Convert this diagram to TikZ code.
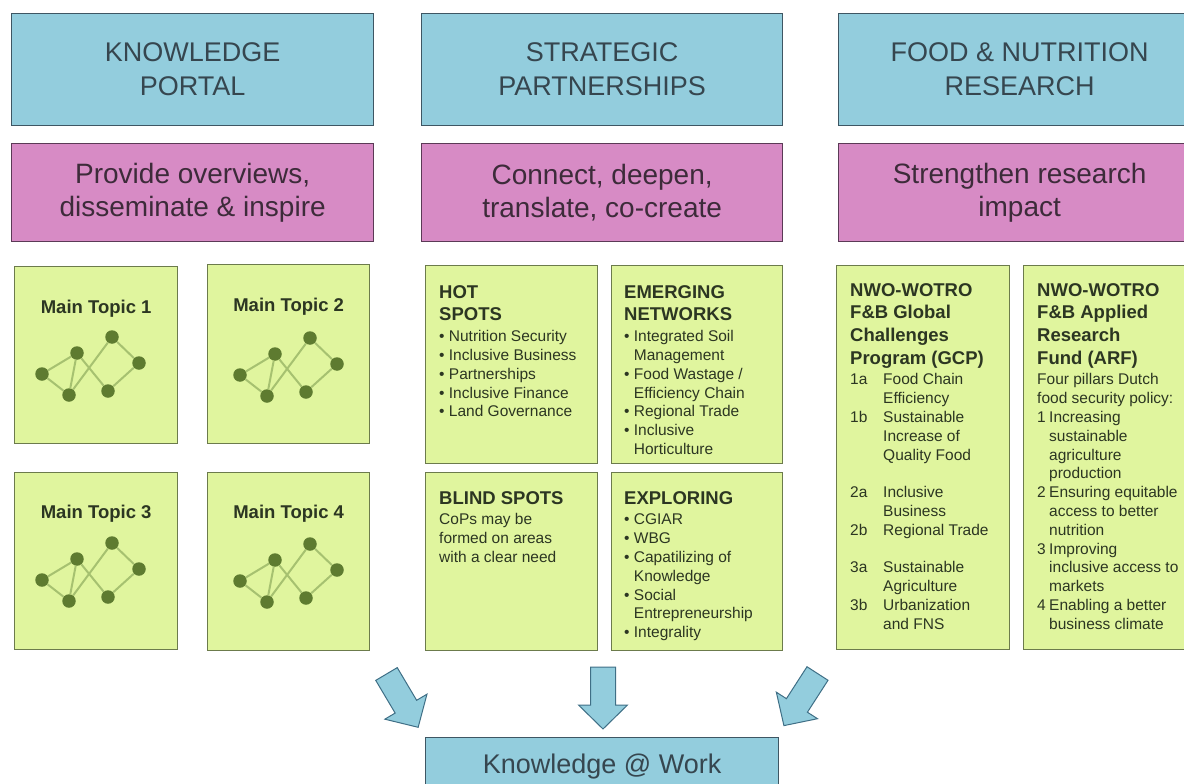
\documentclass[tikz,border=0pt]{standalone}
\usepackage{fontspec}
\setmainfont{Liberation Sans}
\usetikzlibrary{positioning}

\definecolor{headblue}{HTML}{93CDDD}
\definecolor{headline}{HTML}{3E5663}
\definecolor{headtext}{HTML}{36464F}
\definecolor{aimpink}{HTML}{D78BC5}
\definecolor{aimline}{HTML}{5B3A56}
\definecolor{aimtext}{HTML}{3D2B3A}
\definecolor{cardgreen}{HTML}{E0F59E}
\definecolor{cardline}{HTML}{6C7B4C}
\definecolor{inkgreen}{HTML}{2C3622}
\definecolor{dotgreen}{HTML}{5E7B30}
\definecolor{linkgreen}{HTML}{A6C170}
\definecolor{arrowline}{HTML}{3F6F86}

\tikzset{
  headbox/.style={draw=headline, fill=headblue, line width=1.3pt, inner sep=0pt,
    anchor=north west, align=center, text=headtext, font=\fontsize{27}{34}\selectfont},
  aimbox/.style={draw=aimline, fill=aimpink, line width=1.3pt, inner sep=0pt,
    anchor=north west, align=center, text=aimtext, font=\fontsize{28}{33}\selectfont},
  card/.style={draw=cardline, fill=cardgreen, line width=1.3pt, inner sep=0pt, anchor=north west},
  cardtext/.style={inner sep=0pt, align=left, text=inkgreen, font=\fontsize{15.5}{18.8}\selectfont},
  topiclabel/.style={inner sep=0pt, text=inkgreen, font=\bfseries\fontsize{18.5}{22}\selectfont},
  netdot/.style={circle, fill=dotgreen, inner sep=0pt, minimum size=13.5pt},
  netlink/.style={linkgreen, line width=2pt},
  fatarrow/.style={fill=headblue, draw=arrowline, line width=1pt, line join=miter}
}

\newcommand{\cardhead}[1]{{\bfseries\fontsize{18.5}{23}\selectfont #1}}
\newcommand{\cardbullet}{\textbullet\ }
\newcommand{\cardcont}{\phantom{\textbullet\ }}
\newcommand{\gcpnum}[1]{\makebox[33pt][l]{#1}}
\newcommand{\arfnum}[1]{\makebox[12pt][l]{#1}}

% small network of dots, #1 = name prefix, #2 = left dot
\newcommand{\topicnet}[2]{%
  \begin{scope}[shift={#2}]
    \node[netdot] (#1a) at (0,0) {};
    \node[netdot] (#1b) at (35,-21) {};
    \node[netdot] (#1c) at (27,21) {};
    \node[netdot] (#1d) at (70,-37) {};
    \node[netdot] (#1e) at (66,17) {};
    \node[netdot] (#1f) at (97,-11) {};
    \draw[netlink] (#1a) -- (#1b) (#1a) -- (#1c) (#1b) -- (#1c) (#1b) -- (#1e)
      (#1c) -- (#1d) (#1d) -- (#1f) (#1e) -- (#1f);
  \end{scope}}

\begin{document}
\begin{tikzpicture}[x=1pt,y=-1pt]
  %grid, handy when editing coordinates
  	%\draw[thin,gray!40,step=50] (0,0) grid (1184,784);
  	\useasboundingbox (0,0) rectangle (1184,784);

  %headers
  	\node[headbox, minimum width=362, minimum height=112] (portal) at (11,13) {KNOWLEDGE\\PORTAL};
  	\node[headbox, minimum width=361, minimum height=112] (partner) at (421,13) {STRATEGIC\\PARTNERSHIPS};
  	\node[headbox, minimum width=362, minimum height=112] (research) at (838,13) {FOOD \& NUTRITION\\RESEARCH};

  %aims
  	\node[aimbox, minimum width=362, minimum height=98] (portalaim) at (11,143) {Provide overviews,\\disseminate \& inspire};
  	\node[aimbox, minimum width=361, minimum height=98] (partneraim) at (421,143) {Connect, deepen,\\translate, co-create};
  	\node[aimbox, minimum width=362, minimum height=98] (researchaim) at (838,143) {Strengthen research\\impact};

  %knowledge portal, main topics
  	\node[card, minimum width=163, minimum height=177] (topic1) at (14,266) {};
  	\node[card, minimum width=162, minimum height=179] (topic2) at (207,264) {};
  	\node[card, minimum width=163, minimum height=177] (topic3) at (14,472) {};
  	\node[card, minimum width=162, minimum height=178] (topic4) at (207,472) {};
  	\node[topiclabel, below=34pt of topic1.north] (topic1label) {Main Topic 1};
  	\node[topiclabel, below=34pt of topic2.north] (topic2label) {Main Topic 2};
  	\node[topiclabel, below=33pt of topic3.north] (topic3label) {Main Topic 3};
  	\node[topiclabel, below=33pt of topic4.north] (topic4label) {Main Topic 4};
  	\topicnet{ta}{(42,374)}
  	\topicnet{tb}{(240,375)}
  	\topicnet{tc}{(42,580)}
  	\topicnet{td}{(240,581)}

  %strategic partnerships
  	\node[card, minimum width=172, minimum height=198] (hotspots) at (425,265) {};
  	\node[card, minimum width=171, minimum height=198] (emerging) at (611,265) {};
  	\node[card, minimum width=172, minimum height=178] (blindspots) at (425,472) {};
  	\node[card, minimum width=171, minimum height=178] (exploring) at (611,472) {};
  	\node[cardtext, below right=20pt and 14pt of hotspots.north west] (hottext)
  	  {\cardhead{HOT}\\[4pt]\cardhead{SPOTS}\\[2pt]
  	   \cardbullet Nutrition Security\\\cardbullet Inclusive Business\\
  	   \cardbullet Partnerships\\\cardbullet Inclusive Finance\\
  	   \cardbullet Land Governance};
  	\node[cardtext, below right=20pt and 13pt of emerging.north west] (emergingtext)
  	  {\cardhead{EMERGING}\\[4pt]\cardhead{NETWORKS}\\[2pt]
  	   \cardbullet Integrated Soil\\\cardcont Management\\
  	   \cardbullet Food Wastage /\\\cardcont Efficiency Chain\\
  	   \cardbullet Regional Trade\\\cardbullet Inclusive\\\cardcont Horticulture};
  	\node[cardtext, below right=19pt and 14pt of blindspots.north west] (blindtext)
  	  {\cardhead{BLIND SPOTS}\\[2pt]
  	   CoPs may be\\formed on areas\\with a clear need};
  	\node[cardtext, below right=19pt and 13pt of exploring.north west] (exploringtext)
  	  {\cardhead{EXPLORING}\\[2pt]
  	   \cardbullet CGIAR\\\cardbullet WBG\\\cardbullet Capatilizing of\\\cardcont Knowledge\\
  	   \cardbullet Social\\\cardcont Entrepreneurship\\\cardbullet Integrality};

  %food and nutrition research
  	\node[card, minimum width=173, minimum height=384] (gcp) at (836,265) {};
  	\node[card, minimum width=173, minimum height=384] (arf) at (1023,265) {};
  	\node[cardtext, below right=18pt and 14pt of gcp.north west] (gcptext)
  	  {\cardhead{NWO-WOTRO}\\[4pt]\cardhead{F\&B Global}\\[4pt]\cardhead{Challenges}\\[4pt]
  	   \cardhead{Program (GCP)}\\[1.5pt]
  	   \gcpnum{1a}Food Chain\\\gcpnum{}Efficiency\\
  	   \gcpnum{1b}Sustainable\\\gcpnum{}Increase of\\\gcpnum{}Quality Food\\[18.8pt]
  	   \gcpnum{2a}Inclusive\\\gcpnum{}Business\\\gcpnum{2b}Regional Trade\\[18.8pt]
  	   \gcpnum{3a}Sustainable\\\gcpnum{}Agriculture\\
  	   \gcpnum{3b}Urbanization\\\gcpnum{}and FNS};
  	\node[cardtext, below right=18pt and 14pt of arf.north west] (arftext)
  	  {\cardhead{NWO-WOTRO}\\[4pt]\cardhead{F\&B Applied}\\[4pt]\cardhead{Research}\\[4pt]
  	   \cardhead{Fund (ARF)}\\[1.5pt]
  	   Four pillars Dutch\\food security policy:\\
  	   \arfnum{1}Increasing\\\arfnum{}sustainable\\\arfnum{}agriculture\\\arfnum{}production\\
  	   \arfnum{2}Ensuring equitable\\\arfnum{}access to better\\\arfnum{}nutrition\\
  	   \arfnum{3}Improving\\\arfnum{}inclusive access to\\\arfnum{}markets\\
  	   \arfnum{4}Enabling a better\\\arfnum{}business climate};

  %knowledge at work
  	\node[headbox, minimum width=353, minimum height=58] (work) at (425,737) {Knowledge @ Work};

  %arrows down
  	\foreach \tailx/\taily/\ang in {386.5/674/-59.3, 603/667/-90, 817.5/673.5/-122.8}{
  	  \begin{scope}[shift={(\tailx,\taily)}, rotate=\ang]
  	    \draw[fatarrow] (0,-12.5) -- (38,-12.5) -- (38,-24.5) -- (62,0) -- (38,24.5) -- (38,12.5) -- (0,12.5) -- cycle;
  	  \end{scope}}
\end{tikzpicture}
\end{document}
